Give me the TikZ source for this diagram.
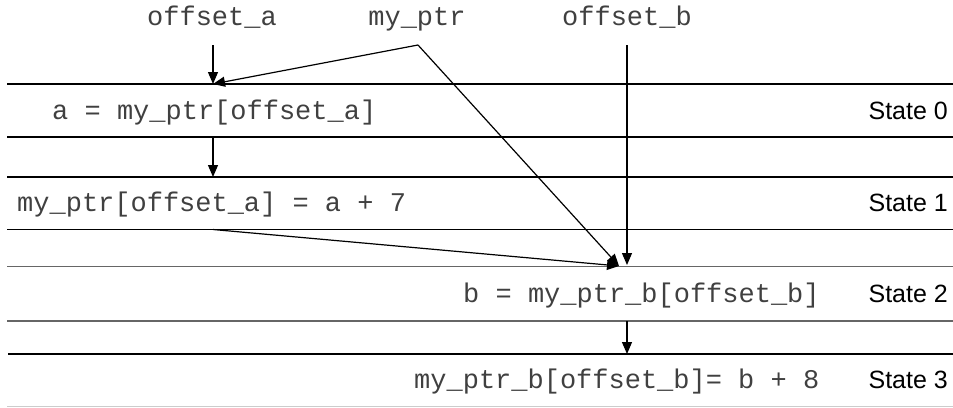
\documentclass[tikz,border=0pt]{standalone}
\usepackage{fontspec}
\setmainfont{Liberation Sans}
\setsansfont{Liberation Sans}
\setmonofont{Liberation Mono}
\usetikzlibrary{arrows.meta}
\begin{document}
\begin{tikzpicture}[x=1pt,y=-1pt,
  code/.style={font=\fontsize{27}{30}\selectfont\ttfamily, inner sep=0pt, text=black!75},
  statelbl/.style={font=\fontsize{25}{30}\selectfont\sffamily, inner sep=0pt, anchor=base east},
  rule/.style={line width=1.1pt},
  softrule/.style={line width=1.1pt, draw=black!60},
  faintrule/.style={line width=1.1pt, draw=black!20},
  conn/.style={line width=1.2pt, -{Triangle[length=12pt,width=10pt]}}
  ]
\useasboundingbox (0,0) rectangle (953,407);
% horizontal rules
\draw[rule] (7,84) -- (953,84);
\draw[rule] (7,137) -- (953,137);
\draw[rule] (7,177) -- (953,177);
\draw[rule] (7,229.5) -- (953,229.5);
\draw[softrule] (7,266.5) -- (953,266.5);
\draw[softrule] (7,321) -- (953,321);
\draw[rule] (8,354) -- (953,354);
\draw[faintrule] (7,406.5) -- (953,406.5);
% top labels
\node[code, anchor=base] (oa) at (212,25) {offset\_a};
\node[code, anchor=base] (mp) at (417,25) {my\_ptr};
\node[code, anchor=base] (ob) at (627,25) {offset\_b};
% code lines
\node[code, anchor=base west] (c0) at (52,119) {a = my\_ptr[offset\_a]};
\node[code, anchor=base west] (c1) at (17,211.5) {my\_ptr[offset\_a] = a + 7};
\node[code, anchor=base west] (c2) at (463,302.5) {b = my\_ptr\_b[offset\_b]};
\node[code, anchor=base west] (c3) at (414,388.5) {my\_ptr\_b[offset\_b]= b + 8};
% state labels
\node[statelbl] (st0) at (948,119) {State 0};
\node[statelbl] (st1) at (948,211.5) {State 1};
\node[statelbl] (st2) at (948,302.5) {State 2};
\node[statelbl] (st3) at (948,388.5) {State 3};
% connector points
\coordinate (oaS) at (213,45);
\coordinate (mpS) at (418,45);
\coordinate (obS) at (627,45);
\coordinate (c0T) at (213,84);
\coordinate (c0B) at (213,137);
\coordinate (c1T) at (213,177);
\coordinate (c1B) at (213,229.5);
\coordinate (M) at (619,266);
\coordinate (obE) at (627,265);
\coordinate (c2B) at (627,321);
\coordinate (c3T) at (627,354);
% connectors
\draw[conn] (oaS) -- (c0T);
\draw[conn] (mpS) -- (c0T);
\draw[conn] (mpS) -- (M);
\draw[conn] (obS) -- (obE);
\draw[conn] (c0B) -- (c1T);
\draw[conn] (c1B) -- (M);
\draw[conn] (c2B) -- (c3T);
\end{tikzpicture}
\end{document}
